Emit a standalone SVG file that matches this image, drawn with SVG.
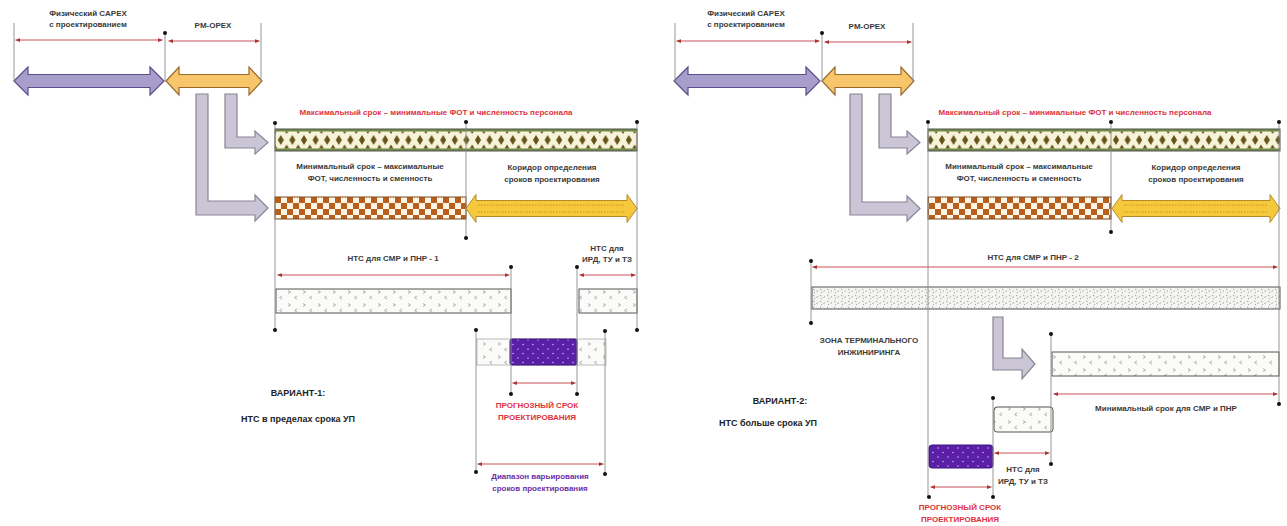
<svg xmlns="http://www.w3.org/2000/svg" width="1287" height="526" viewBox="0 0 1287 526">
<style>
.t{font-family:"Liberation Sans",Arial,sans-serif;font-size:8px;font-weight:bold;fill:#3a3a3a;text-anchor:middle}
.tr{font-family:"Liberation Sans",Arial,sans-serif;font-size:8px;font-weight:bold;fill:#e0313d;text-anchor:middle}
.tp{font-family:"Liberation Sans",Arial,sans-serif;font-size:8px;font-weight:bold;fill:#6a2fa8;text-anchor:middle}
.tv{font-family:"Liberation Sans",Arial,sans-serif;font-size:9px;font-weight:bold;fill:#222;text-anchor:middle}
.ext{stroke:#8a8a8a;stroke-width:0.9;fill:none}
.dim{stroke:#c9505a;stroke-width:1;fill:none;marker-start:url(#ah);marker-end:url(#ah)}
.dot{fill:#111}
.purp{fill:#a79ecb;stroke:#5a4d8c;stroke-width:1.2}
.orng{fill:#f7c56a;stroke:#9a6a2c;stroke-width:1.2}
.gray{fill:#cbc6d6;stroke:#8a8396;stroke-width:1.2}
.yel{fill:#f6c93c;stroke:#b48a2a;stroke-width:1}
.bar{stroke:#555;stroke-width:1}
</style>
<defs>
<marker id="ah" viewBox="0 0 8 8" refX="4" refY="4" markerWidth="6" markerHeight="6" orient="auto-start-reverse">
<path d="M0,1.5 L7,4 L0,6.5 Z" fill="#a33"/>
</marker>
<pattern id="diam" x="275" y="129" width="11.6" height="22" patternUnits="userSpaceOnUse">
<rect width="11.6" height="22" fill="#f7f3d8"/>
<rect width="11.6" height="2.5" fill="#6f8a45"/>
<rect y="19.5" width="11.6" height="2.5" fill="#6f8a45"/>
<path d="M5.8,6 L8.8,11 L5.8,16 L2.8,11 Z" fill="#65551b"/>
<path d="M0,19.5 L2.4,19.5 L0,15.5 Z M11.6,19.5 L9.2,19.5 L11.6,15.5 Z M0,2.5 L1.6,2.5 L0,5 Z M11.6,2.5 L10,2.5 L11.6,5 Z" fill="#65551b"/>
</pattern>
<pattern id="chk" x="275" y="197" width="12" height="12" patternUnits="userSpaceOnUse">
<rect width="12" height="12" fill="#fcf4e4"/>
<rect width="6" height="6" fill="#b95f1e"/>
<rect x="6" y="6" width="6" height="6" fill="#b95f1e"/>
</pattern>
<pattern id="nts" x="0" y="288" width="15" height="13" patternUnits="userSpaceOnUse">
<rect width="15" height="13" fill="#fbfbf9"/>
<path d="M3,2.5 l2.5,1.5 l-2.5,1.5 M12,8 l-2.5,1.5 l2.5,1.5" stroke="#9a9a9a" stroke-width="0.8" fill="none"/>
</pattern>
<pattern id="speck" x="0" y="0" width="7" height="6" patternUnits="userSpaceOnUse">
<rect width="7" height="6" fill="#f4f4f2"/>
<path d="M1,1 l1.5,1 M4.5,3.5 l1.5,-1 M2,5 l1,-0.8" stroke="#8a8a8a" stroke-width="0.8" fill="none"/>
</pattern>
<pattern id="vio" x="0" y="0" width="10" height="9" patternUnits="userSpaceOnUse">
<rect width="10" height="9" fill="#5a1fa6"/>
<circle cx="3" cy="2.5" r="0.8" fill="#c9a9f0"/>
<circle cx="8" cy="7" r="0.8" fill="#c9a9f0"/>
</pattern>
</defs>

<!-- ===================== VARIANT 1 (left) ===================== -->
<g id="v1-capex">
<path class="purp" d="M14,81 L28,67 L28,74.5 L150,74.5 L150,67 L164,81 L150,95 L150,87.5 L28,87.5 L28,95 Z"/>
<text class="t" x="88" y="16">Физический CAPEX</text>
<text class="t" x="88" y="27">с проектированием</text>
</g>
<g id="v1-pmopex">
<path class="orng" d="M166,81 L179,67 L179,74.5 L249,74.5 L249,67 L262,81 L249,95 L249,87.5 L179,87.5 L179,95 Z"/>
<text class="t" x="213" y="28">PM-OPEX</text>
</g>
<g id="v1-arrow-a"><path class="gray" d="M225,94 L237,94 L237,137 L255,137 L255,131 L268,142.5 L255,154 L255,148 L225,148 Z"/></g>
<g id="v1-arrow-b"><path class="gray" d="M196,94 L208,94 L208,201 L255,201 L255,195 L268,208 L255,221 L255,215 L196,215 Z"/></g>
<g id="v1-max">
<text class="tr" x="436" y="115">Максимальный срок – минимальные ФОТ и численность персонала</text>
<rect class="bar" x="275" y="129" width="362" height="22" fill="url(#diam)" stroke="#4d5a2a"/>
</g>
<g id="v1-min">
<text class="t" x="370" y="169">Минимальный срок – максимальные</text>
<text class="t" x="370" y="181">ФОТ, численность и сменность</text>
<rect x="275" y="197" width="191" height="22" fill="url(#chk)" stroke="#7a4a1e" stroke-width="1"/>
</g>
<g id="v1-corridor">
<text class="t" x="552" y="170">Коридор определения</text>
<text class="t" x="552" y="182">сроков проектирования</text>
<path class="yel" d="M466,208.5 L476,194.5 L476,200.5 L627,200.5 L627,194.5 L637,208.5 L627,222.5 L627,216.5 L476,216.5 L476,222.5 Z"/>
<path d="M478,205 H625 M478,212 H625" stroke="#c8901a" stroke-width="1" stroke-dasharray="1.5 1.5"/>
</g>
<g id="v1-nts1">
<text class="t" x="393" y="261">НТС для СМР и ПНР - 1</text>
<rect class="bar" x="276" y="289" width="235" height="24" fill="url(#nts)"/>
</g>
<g id="v1-nts-ird">
<text class="t" x="607" y="251">НТС для</text>
<text class="t" x="607" y="262">ИРД, ТУ и ТЗ</text>
<rect class="bar" x="579" y="289" width="58" height="24" fill="url(#nts)"/>
</g>
<g id="v1-range-bar">
<rect x="477" y="339" width="129" height="26" fill="url(#nts)" stroke="#aaa" stroke-width="0.8"/>
<rect x="510" y="339" width="67" height="26" rx="2" fill="url(#vio)" stroke="#3e1680" stroke-width="1"/>
</g>
<g id="v1-forecast">
<text class="tr" x="537" y="408">ПРОГНОЗНЫЙ СРОК</text>
<text class="tr" x="537" y="420">ПРОЕКТИРОВАНИЯ</text>
</g>
<g id="v1-range">
<text class="tp" x="540" y="479">Диапазон варьирования</text>
<text class="tp" x="540" y="491">сроков проектирования</text>
</g>
<g id="v1-title">
<text class="tv" x="298" y="396">ВАРИАНТ-1:</text>
<text class="tv" x="298" y="422">НТС в пределах срока УП</text>
</g>

<!-- ===================== VARIANT 2 (right) ===================== -->
<g id="v2-capex">
<path class="purp" d="M674,81 L688,67 L688,74.5 L806,74.5 L806,67 L820,81 L806,95 L806,87.5 L688,87.5 L688,95 Z"/>
<text class="t" x="746" y="16">Физический CAPEX</text>
<text class="t" x="746" y="27">с проектированием</text>
</g>
<g id="v2-pmopex">
<path class="orng" d="M822,81 L835,67 L835,74.5 L901,74.5 L901,67 L914,81 L901,95 L901,87.5 L835,87.5 L835,95 Z"/>
<text class="t" x="867" y="29">PM-OPEX</text>
</g>
<g id="v2-arrow-a"><path class="gray" d="M879,94 L891,94 L891,137 L907,137 L907,131 L920,142.5 L907,154 L907,148 L879,148 Z"/></g>
<g id="v2-arrow-b"><path class="gray" d="M850,94 L862,94 L862,202 L907,202 L907,196 L920,208.5 L907,221 L907,215 L850,215 Z"/></g>
<g id="v2-max">
<text class="tr" x="1075" y="115">Максимальный срок – минимальные ФОТ и численность персонала</text>
<rect class="bar" x="928" y="129" width="352" height="22" fill="url(#diam)" stroke="#4d5a2a"/>
</g>
<g id="v2-min">
<text class="t" x="1019" y="169">Минимальный срок – максимальные</text>
<text class="t" x="1019" y="181">ФОТ, численность и сменность</text>
<rect x="928" y="197" width="183" height="22" fill="url(#chk)" stroke="#7a4a1e" stroke-width="1"/>
</g>
<g id="v2-corridor">
<text class="t" x="1196" y="170">Коридор определения</text>
<text class="t" x="1196" y="182">сроков проектирования</text>
<path class="yel" d="M1112,208.5 L1122,194.5 L1122,200.5 L1270,200.5 L1270,194.5 L1280,208.5 L1270,222.5 L1270,216.5 L1122,216.5 L1122,222.5 Z"/>
<path d="M1124,205 H1268 M1124,212 H1268" stroke="#c8901a" stroke-width="1" stroke-dasharray="1.5 1.5"/>
</g>
<g id="v2-nts2">
<text class="t" x="1033" y="260">НТС для СМР и ПНР - 2</text>
<rect class="bar" x="812" y="287" width="468" height="22" fill="url(#speck)"/>
</g>
<g id="v2-zone">
<text class="t" x="869" y="343">ЗОНА ТЕРМИНАЛЬНОГО</text>
<text class="t" x="869" y="355">ИНЖИНИРИНГА</text>
</g>
<g id="v2-arrow-c"><path class="gray" d="M993,317 L1003,317 L1003,358 L1022,358 L1022,349 L1035,364 L1022,379 L1022,370 L993,370 Z"/></g>
<g id="v2-min-smr">
<rect class="bar" x="1052" y="352" width="227" height="24" fill="url(#nts)"/>
<text class="t" x="1166" y="411">Минимальный срок для СМР и ПНР</text>
</g>
<g id="v2-nts-ird">
<rect x="994" y="407" width="59" height="25" rx="3" fill="url(#nts)" stroke="#555" stroke-width="1"/>
<text class="t" x="1023" y="472">НТС для</text>
<text class="t" x="1023" y="484">ИРД, ТУ и ТЗ</text>
</g>
<g id="v2-forecast">
<rect x="929" y="445" width="64" height="23" rx="3" fill="url(#vio)" stroke="#3e1680" stroke-width="1"/>
<text class="tr" x="960" y="510">ПРОГНОЗНЫЙ СРОК</text>
<text class="tr" x="960" y="522">ПРОЕКТИРОВАНИЯ</text>
</g>
<g id="v2-title">
<text class="tv" x="780" y="404">ВАРИАНТ-2:</text>
<text class="tv" x="768" y="426">НТС больше срока УП</text>
</g>

<!-- ===================== CONNECTORS ===================== -->
<g id="connectors">
<path class="ext" d="M14,23 V82 M165,33 V82 M261,23 V82"/>
<path class="dim" d="M17,40 H161"/>
<path class="dim" d="M170,41 H258"/>
<path class="ext" d="M275,123 V330 M466,122 V238 M637,122 V330 M511,267 V394 M577,267 V394 M476,330 V472 M605,331 V474"/>
<path class="dim" d="M279,275 H508"/>
<path class="dim" d="M581,275 H634"/>
<path class="dim" d="M514,383 H574"/>
<path class="dim" d="M479,464 H602"/>
<path class="ext" d="M675,23 V82 M822,33 V82 M913,23 V82"/>
<path class="dim" d="M678,41 H818"/>
<path class="dim" d="M826,42 H910"/>
<path class="ext" d="M928,122 V497 M1111,122 V232 M1279,122 V404 M811,261 V323 M1051,334 V464 M993,398 V497"/>
<path class="dim" d="M814,267 H1276"/>
<path class="dim" d="M1055,394 H1276"/>
<path class="dim" d="M996,453 H1048"/>
<path class="dim" d="M932,487 H990"/>
</g>
<g id="dots">
<circle class="dot" cx="165" cy="33" r="2"/>
<circle class="dot" cx="275" cy="123" r="2"/><circle class="dot" cx="466" cy="122" r="2"/><circle class="dot" cx="637" cy="122" r="2"/>
<circle class="dot" cx="466" cy="238" r="2"/>
<circle class="dot" cx="511" cy="267" r="2"/><circle class="dot" cx="577" cy="267" r="2"/>
<circle class="dot" cx="275" cy="330" r="2"/><circle class="dot" cx="476" cy="330" r="2"/><circle class="dot" cx="605" cy="331" r="2"/><circle class="dot" cx="637" cy="330" r="2"/>
<circle class="dot" cx="511" cy="394" r="2"/><circle class="dot" cx="577" cy="394" r="2"/>
<circle class="dot" cx="476" cy="472" r="2"/><circle class="dot" cx="605" cy="474" r="2"/>
<circle class="dot" cx="822" cy="33" r="2"/>
<circle class="dot" cx="928" cy="122" r="2"/><circle class="dot" cx="1111" cy="122" r="2"/><circle class="dot" cx="1279" cy="122" r="2"/>
<circle class="dot" cx="1111" cy="232" r="2"/>
<circle class="dot" cx="811" cy="261" r="2"/><circle class="dot" cx="811" cy="323" r="2"/>
<circle class="dot" cx="1051" cy="334" r="2"/><circle class="dot" cx="1279" cy="404" r="2"/>
<circle class="dot" cx="993" cy="398" r="2"/><circle class="dot" cx="1051" cy="464" r="2"/>
<circle class="dot" cx="929" cy="497" r="2"/><circle class="dot" cx="993" cy="497" r="2"/>
</g>
</svg>
